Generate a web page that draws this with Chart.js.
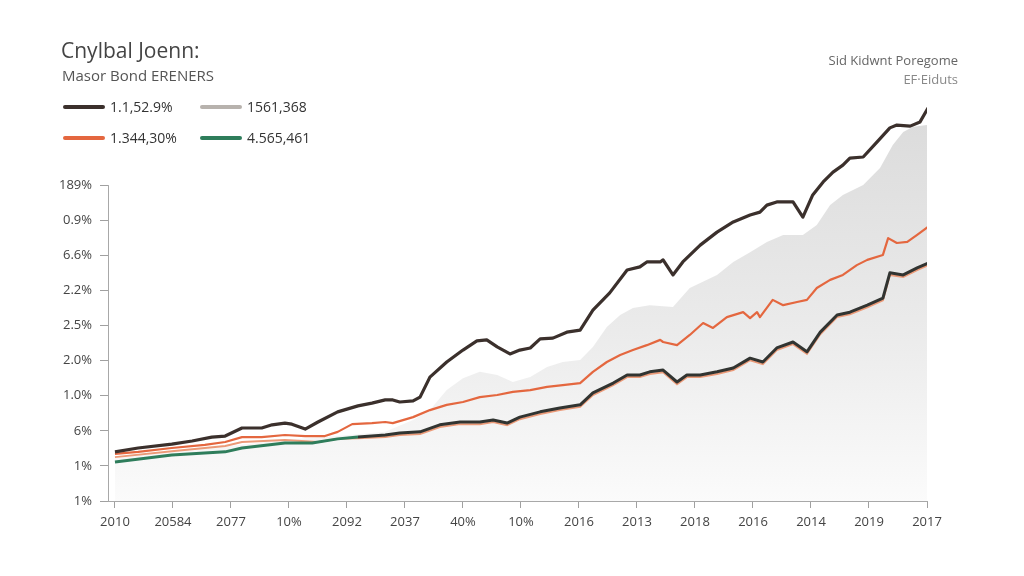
<!DOCTYPE html>
<html lang="en">
<head>
    <meta charset="UTF-8">
    <title>Cnylbal Joenn</title>
    <script src="https://cdn.jsdelivr.net/npm/chart.js"></script>
    <style>
        body { margin: 0; background: #fff; font-family: "Open Sans", sans-serif; }
        #wrap { position: relative; width: 1024px; height: 576px; overflow: hidden; }
        #chart { position: absolute; left: 0; top: 0; }
        .title { position: absolute; left: 61px; top: 36px; font-size: 21px; color: #444; }
        .subtitle { position: absolute; left: 62px; top: 65px; font-size: 15px; color: #555; }
        .note { position: absolute; right: 66px; font-size: 13px; color: #666; text-align: right; }
        .legend-item { position: absolute; display: flex; align-items: center; font-size: 14px; color: #333; }
        .legend-item span.swatch { display: inline-block; width: 42px; height: 4px; border-radius: 2px; margin-right: 5px; }
    </style>
</head>
<body>
<div id="wrap">
    <canvas id="chart" width="1024" height="576"></canvas>
    <div class="title">Cnylbal Joenn:</div>
    <div class="subtitle">Masor Bond ERENERS</div>
    <div class="note" style="top: 51px;">Sid Kidwnt Poregome</div>
    <div class="note" style="top: 70px; color: #888;">EF·Eiduts</div>
    <div id="legend"></div>
</div>

<script>
    // tick labels
    const xLabels = ['2010', '20584', '2077', '10%', '2092', '2037', '40%', '10%', '2016', '2013', '2018', '2016', '2014', '2019', '2017'];
    const yLabels = ['1%', '1%', '6%', '1.0%', '2.0%', '2.5%', '2.2%', '6.6%', '0.9%', '189%'];

    // legend
    const seriesNames = ['1.1,52.9%', '1561,368', '1.344,30%', '4.565,461'];
    const seriesColors = ['#3b302c', '#b7b2ad', '#e4673f', '#2e7d5b'];

    // top dark line
    const topX = [0, 0.40, 0.98, 1.33, 1.67, 1.90, 2.19, 2.53, 2.71, 2.93, 3.05, 3.28, 3.50, 3.84, 4.19, 4.43, 4.66, 4.79, 4.91, 5.14, 5.26, 5.43, 5.72, 6.00, 6.24, 6.41, 6.59, 6.81, 6.98, 7.16, 7.33, 7.55, 7.79, 8.02, 8.24, 8.53, 8.83, 9.05, 9.17, 9.40, 9.45, 9.62, 9.79, 10.09, 10.38, 10.66, 10.95, 11.12, 11.24, 11.41, 11.69, 11.86, 12.03, 12.21, 12.38, 12.55, 12.67, 12.90, 13.14, 13.36, 13.48, 13.71, 13.88, 14.02];
    const topY = [1.40, 1.51, 1.62, 1.71, 1.82, 1.85, 2.08, 2.08, 2.17, 2.22, 2.19, 2.05, 2.25, 2.54, 2.71, 2.79, 2.88, 2.88, 2.82, 2.85, 2.96, 3.53, 3.96, 4.30, 4.56, 4.59, 4.39, 4.19, 4.30, 4.36, 4.62, 4.64, 4.81, 4.87, 5.44, 5.93, 6.58, 6.67, 6.81, 6.81, 6.87, 6.44, 6.81, 7.29, 7.66, 7.95, 8.15, 8.23, 8.43, 8.52, 8.52, 8.09, 8.72, 9.09, 9.37, 9.57, 9.77, 9.80, 10.23, 10.63, 10.71, 10.68, 10.80, 11.20];

    // orange line
    const orangeX = [0, 0.40, 0.98, 1.55, 1.90, 2.19, 2.53, 2.93, 3.28, 3.62, 3.84, 4.09, 4.43, 4.66, 4.79, 5.14, 5.43, 5.72, 6.00, 6.29, 6.59, 6.86, 7.16, 7.45, 7.72, 8.02, 8.24, 8.48, 8.71, 8.93, 9.17, 9.40, 9.45, 9.69, 9.91, 10.14, 10.31, 10.55, 10.83, 10.95, 11.07, 11.12, 11.34, 11.52, 11.76, 11.93, 12.10, 12.33, 12.55, 12.79, 12.97, 13.24, 13.33, 13.48, 13.66, 13.83, 14.02];
    const orangeY = [1.34, 1.40, 1.51, 1.60, 1.68, 1.82, 1.82, 1.88, 1.85, 1.85, 1.97, 2.19, 2.22, 2.25, 2.22, 2.39, 2.59, 2.74, 2.82, 2.96, 3.02, 3.11, 3.16, 3.25, 3.30, 3.36, 3.68, 3.96, 4.16, 4.30, 4.44, 4.59, 4.53, 4.44, 4.73, 5.07, 4.93, 5.24, 5.38, 5.21, 5.38, 5.24, 5.73, 5.58, 5.67, 5.73, 6.07, 6.30, 6.44, 6.72, 6.87, 7.01, 7.49, 7.35, 7.38, 7.58, 7.81];

    // lower line (green at the start)
    const lowerX = [0, 0.98, 1.90, 2.19, 2.93, 3.40, 3.84, 4.19, 4.66, 4.91, 5.26, 5.60, 5.95, 6.29, 6.52, 6.76, 6.98, 7.33, 7.67, 8.02, 8.24, 8.59, 8.83, 9.05, 9.22, 9.45, 9.69, 9.86, 10.09, 10.38, 10.66, 10.95, 11.17, 11.41, 11.69, 11.93, 12.16, 12.45, 12.67, 12.97, 13.24, 13.36, 13.59, 13.83, 14.02];
    const lowerY = [1.11, 1.31, 1.40, 1.51, 1.65, 1.65, 1.77, 1.82, 1.88, 1.94, 1.97, 2.17, 2.25, 2.25, 2.31, 2.22, 2.39, 2.54, 2.65, 2.74, 3.08, 3.36, 3.59, 3.59, 3.68, 3.73, 3.39, 3.59, 3.59, 3.68, 3.79, 4.07, 3.96, 4.36, 4.53, 4.25, 4.81, 5.30, 5.38, 5.58, 5.78, 6.50, 6.44, 6.64, 6.78];

    // pale salmon line, then the orange edge under the lower line
    const paleX = [0, 0.98, 1.90, 2.19, 2.93, 3.50, 3.84, 4.19, 4.66, 4.91, 5.26, 5.60, 5.95, 6.29, 6.52, 6.76, 6.98, 7.33, 7.67, 8.02, 8.24, 8.59, 8.83, 9.05, 9.22, 9.45, 9.69, 9.86, 10.09, 10.38, 10.66, 10.95, 11.17, 11.41, 11.69, 11.93, 12.16, 12.45, 12.67, 12.97, 13.24, 13.36, 13.59, 13.83, 14.02];
    const paleY = [1.25, 1.42, 1.57, 1.68, 1.74, 1.68, 1.77, 1.79, 1.82, 1.88, 1.91, 2.11, 2.19, 2.19, 2.25, 2.16, 2.33, 2.48, 2.59, 2.68, 3.02, 3.30, 3.53, 3.53, 3.62, 3.67, 3.33, 3.53, 3.53, 3.62, 3.73, 4.01, 3.90, 4.30, 4.47, 4.19, 4.75, 5.24, 5.32, 5.52, 5.72, 6.44, 6.38, 6.58, 6.72];

    // grey area
    const areaX = [0, 0.98, 2.19, 2.93, 3.84, 4.66, 5.14, 5.43, 5.72, 6.00, 6.29, 6.59, 6.86, 7.16, 7.45, 7.72, 8.02, 8.24, 8.48, 8.71, 8.93, 9.22, 9.62, 9.91, 10.38, 10.66, 10.95, 11.24, 11.52, 11.86, 12.10, 12.33, 12.55, 12.90, 13.19, 13.41, 13.59, 13.76, 14.00];
    const areaY = [1.23, 1.40, 1.60, 1.74, 1.85, 1.97, 2.31, 2.59, 3.16, 3.50, 3.68, 3.59, 3.39, 3.53, 3.82, 3.96, 4.02, 4.39, 4.96, 5.30, 5.50, 5.58, 5.53, 6.07, 6.44, 6.81, 7.09, 7.38, 7.58, 7.58, 7.86, 8.43, 8.72, 9.00, 9.49, 10.14, 10.51, 10.66, 10.71];

    const pts = (xs, ys) => xs.map((x, i) => ({ x: x, y: ys[i] }));

    // html legend
    const legend = document.getElementById('legend');
    seriesNames.forEach((name, i) => {
        const item = document.createElement('div');
        item.className = 'legend-item';
        item.style.left = (i % 2 === 0 ? 63 : 200) + 'px';
        item.style.top = (i < 2 ? 97 : 128) + 'px';
        item.innerHTML = '<span class="swatch" style="background:' + seriesColors[i] + '"></span>' + name;
        legend.appendChild(item);
    });

    const tickFont = { family: '"Open Sans", sans-serif', size: 13 };

    // y axis line only up to the top tick
    const axisLine = {
        id: 'axisLine',
        afterDraw(chart) {
            const ctx = chart.ctx;
            const y = chart.scales.y;
            ctx.save();
            ctx.strokeStyle = '#a8a8a8';
            ctx.lineWidth = 1;
            ctx.beginPath();
            ctx.moveTo(chart.chartArea.left + 0.5, y.getPixelForValue(yLabels.length - 1));
            ctx.lineTo(chart.chartArea.left + 0.5, chart.chartArea.bottom);
            ctx.stroke();
            ctx.restore();
        }
    };

    new Chart(document.getElementById('chart').getContext('2d'), {
        type: 'line',
        data: {
            datasets: [
                {
                    label: seriesNames[1], data: pts(areaX, areaY), order: 10,
                    borderWidth: 0, pointRadius: 0, fill: 'start',
                    backgroundColor: (c) => {
                        const area = c.chart.chartArea;
                        if (!area) return '#ececec';
                        const g = c.chart.ctx.createLinearGradient(0, area.top + 30, 0, area.bottom);
                        g.addColorStop(0, '#dcdcdc');
                        g.addColorStop(0.55, '#ebebeb');
                        g.addColorStop(1, '#fbfbfb');
                        return g;
                    }
                },
                { label: 'pale', data: pts(paleX, paleY), order: 5, borderColor: '#eb9a78', borderWidth: 2, pointRadius: 0, fill: false },
                {
                    label: seriesNames[3], data: pts(lowerX, lowerY), order: 3, borderWidth: 3, pointRadius: 0, fill: false,
                    borderColor: '#313431', borderJoinStyle: 'round',
                    segment: { borderColor: (s) => s.p0.parsed.x < 4.0 ? seriesColors[3] : '#313431' }
                },
                { label: seriesNames[2], data: pts(orangeX, orangeY), order: 2, borderColor: seriesColors[2], borderWidth: 2.2, pointRadius: 0, fill: false, borderJoinStyle: 'round' },
                { label: seriesNames[0], data: pts(topX, topY), order: 1, borderColor: seriesColors[0], borderWidth: 3.2, pointRadius: 0, fill: false, borderJoinStyle: 'round' }
            ]
        },
        options: {
            responsive: false,
            animation: false,
            layout: { padding: { left: 0, top: 95, right: 97, bottom: 0 } },
            plugins: { legend: { display: false }, tooltip: { enabled: false } },
            scales: {
                x: {
                    type: 'linear', min: -0.12, max: 14,
                    afterBuildTicks: (s) => { s.ticks = xLabels.map((_, i) => ({ value: i })); },
                    afterFit: (s) => { s.height = 75; },
                    ticks: { callback: (v) => xLabels[Math.round(v)], autoSkip: false, maxRotation: 0, padding: 6, color: '#444', font: tickFont },
                    grid: { drawOnChartArea: false, tickLength: 7, color: '#a0a0a0' },
                    border: { color: '#a8a8a8' }
                },
                y: {
                    type: 'linear', min: 0, max: 11.567,
                    afterBuildTicks: (s) => { s.ticks = yLabels.map((_, i) => ({ value: i })); },
                    afterFit: (s) => { s.width = 108; },
                    ticks: { callback: (v) => yLabels[Math.round(v)], padding: 8, color: '#444', font: tickFont },
                    grid: { drawOnChartArea: false, tickLength: 8, color: '#a0a0a0' },
                    border: { display: false }
                }
            }
        },
        plugins: [axisLine]
    });
</script>
</body>
</html>
